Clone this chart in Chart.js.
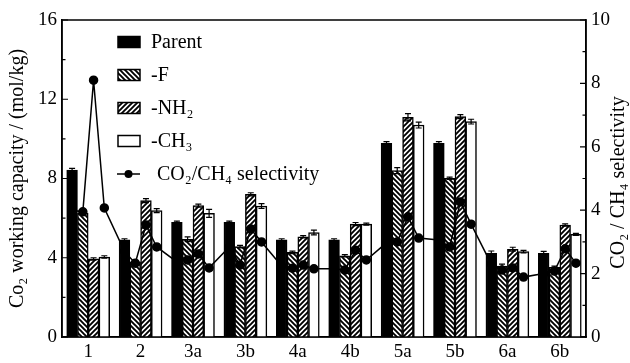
<!DOCTYPE html>
<html><head><meta charset="utf-8">
<script src="https://cdn.jsdelivr.net/npm/chart.js@4/dist/chart.umd.min.js"></script>
<style>html,body{margin:0;padding:0;background:#fff}#wrap{width:630px;height:363px}</style>
</head><body><div id="wrap"><canvas id="c" width="630" height="363"></canvas></div>
<script>
// ---------- data ----------
const categories = ['1','2','3a','3b','4a','4b','5a','5b','6a','6b'];
const seriesLabels = ['Parent','-F','-NH\u2082','-CH\u2083'];
const lineLabel = 'CO\u2082/CH\u2084 selectivity';

// CO2 working capacity (mol/kg)
const capParent = [8.43, 4.90, 5.79, 5.79, 4.90, 4.90, 9.78, 9.78, 4.22, 4.22];
const capF      = [6.26, 3.79, 4.93, 4.56, 4.27, 4.10, 8.40, 8.01, 3.58, 3.52];
const capNH2    = [3.94, 6.88, 6.63, 7.20, 5.06, 5.70, 11.09, 11.12, 4.43, 5.65];
const capCH3    = [4.04, 6.38, 6.24, 6.61, 5.27, 5.70, 10.70, 10.87, 4.31, 5.18];

// error bars (mol/kg)
const errParent = [0.08, 0.06, 0.06, 0.06, 0.06, 0.06, 0.08, 0.08, 0.12, 0.10];
const errF      = [0.08, 0.06, 0.12, 0.06, 0.06, 0.06, 0.15, 0.06, 0.10, 0.06];
const errNH2    = [0.06, 0.10, 0.08, 0.08, 0.06, 0.08, 0.18, 0.10, 0.10, 0.06];
const errCH3    = [0.06, 0.10, 0.20, 0.12, 0.12, 0.05, 0.15, 0.12, 0.06, 0.05];

// CO2/CH4 selectivity
const selParent = [4.00, 2.70, 2.37, 2.84, 2.24, 2.15, 2.97, 3.06, 2.30, 2.00];
const selF      = [3.95, 2.33, 2.43, 2.27, 2.17, 2.11, 3.00, 2.84, 2.11, 2.08];
const selNH2    = [8.10, 3.53, 2.62, 3.41, 2.27, 2.74, 3.79, 4.26, 2.18, 2.78];
const selCH3    = [4.07, 2.84, 2.18, 3.00, 2.15, 2.43, 3.12, 3.56, 1.89, 2.33];

const leftTicksMax = 16, rightTicksMax = 10;

// ---------- styling ----------
const FONT = "'Liberation Serif', 'Times New Roman', serif";
const CAT_PCT = 0.82;   // share of each category taken by its group of four bars

function hatch(slash){
  const s = 5;
  const c = document.createElement('canvas'); c.width = s; c.height = s;
  const g = c.getContext('2d');
  g.fillStyle = '#fff'; g.fillRect(0,0,s,s);
  g.strokeStyle = '#000'; g.lineWidth = 1.9; g.beginPath();
  if (slash){
    g.moveTo(-1, s+1); g.lineTo(s+1, -1);
    g.moveTo(-1, 1); g.lineTo(1, -1);
    g.moveTo(s-1, s+1); g.lineTo(s+1, s-1);
  } else {
    g.moveTo(-1, -1); g.lineTo(s+1, s+1);
    g.moveTo(-1, s-1); g.lineTo(1, s+1);
    g.moveTo(s-1, -1); g.lineTo(s+1, 1);
  }
  g.stroke();
  return g.createPattern(c, 'repeat');
}
const fills = ['#000', hatch(false), hatch(true), '#fff'];
const caps = [capParent, capF, capNH2, capCH3];
const errs = [errParent, errF, errNH2, errCH3];
const sels = [selParent, selF, selNH2, selCH3];

// slot of series k inside category i, in category units
const slot = (i, k) => i + CAT_PCT / 4 * (k - 1.5);

const lineData = [];
categories.forEach((c, i) => sels.forEach((arr, k) => lineData.push({x: slot(i, k), y: arr[i]})));

const barSets = caps.map((arr, k) => ({
  type: 'bar', label: seriesLabels[k],
  data: arr.map((v, i) => ({x: slot(i, k), y: v})), errors: errs[k],
  backgroundColor: fills[k], borderColor: '#000', borderWidth: 1.5,
  borderSkipped: 'start', grouped: false, categoryPercentage: 1, barPercentage: 1,
  xAxisID: 'xs', yAxisID: 'y', order: 1
}));
const lineSet = {
  type: 'line', label: lineLabel, data: lineData,
  borderColor: '#000', borderWidth: 1.5, backgroundColor: '#000',
  pointRadius: 4, pointBackgroundColor: '#000', pointBorderColor: '#000',
  tension: 0, xAxisID: 'xs', yAxisID: 'y1', order: 0
};

// ---------- plugins ----------
const errorBars = {
  id: 'errorBars',
  afterDatasetDraw(chart, args){
    const ds = chart.data.datasets[args.index];
    if (!ds.errors) return;
    const ys = chart.scales.y, ctx = chart.ctx;
    ctx.save(); ctx.strokeStyle = '#000'; ctx.lineWidth = 1.2;
    args.meta.data.forEach((el, j) => {
      const v = ds.data[j].y, e = ds.errors[j];
      const t = ys.getPixelForValue(v + e), b = ys.getPixelForValue(v - e);
      ctx.beginPath();
      ctx.moveTo(el.x, t); ctx.lineTo(el.x, b);
      ctx.moveTo(el.x - 3, t); ctx.lineTo(el.x + 3, t);
      ctx.moveTo(el.x - 3, b); ctx.lineTo(el.x + 3, b);
      ctx.stroke();
    });
    ctx.restore();
  }
};

const frame = {
  id: 'frame',
  afterDraw(chart){
    const ctx = chart.ctx, a = chart.chartArea;
    ctx.save();
    ctx.strokeStyle = '#000'; ctx.lineWidth = 1.5;
    ctx.strokeRect(a.left, a.top, a.right - a.left, a.bottom - a.top);
    ctx.lineWidth = 1.2;
    const y = chart.scales.y, y1 = chart.scales.y1;
    const yt = y.ticks.map(t => t.value);
    const step = yt[1] - yt[0];
    ctx.beginPath();
    yt.forEach(v => {
      const p = y.getPixelForValue(v);
      ctx.moveTo(a.left, p); ctx.lineTo(a.left + 6, p);
      if (v + step / 2 < y.max) { const q = y.getPixelForValue(v + step/2); ctx.moveTo(a.left, q); ctx.lineTo(a.left + 3.5, q); }
    });
    const rt = y1.ticks.map(t => t.value);
    const rstep = rt[1] - rt[0];
    rt.forEach(v => {
      const p = y1.getPixelForValue(v);
      ctx.moveTo(a.right, p); ctx.lineTo(a.right - 6, p);
      if (v + rstep / 2 < y1.max) { const q = y1.getPixelForValue(v + rstep/2); ctx.moveTo(a.right, q); ctx.lineTo(a.right - 3.5, q); }
    });
    ctx.stroke();

    ctx.fillStyle = '#000';
    ctx.font = '20px ' + FONT;
    ctx.textAlign = 'center'; ctx.textBaseline = 'middle';
    ctx.translate(619, (a.top + a.bottom) / 2 + 4);
    ctx.rotate(-Math.PI / 2);
    ctx.fillText('CO\u2082 / CH\u2084 selectivity', 0, 0);
    ctx.restore();
  }
};

const customLegend = {
  id: 'customLegend',
  afterDraw(chart){
    const ctx = chart.ctx, a = chart.chartArea;
    const x0 = a.left + 56, y0 = a.top + 22, dy = 33;
    ctx.save();
    ctx.font = '20px ' + FONT; ctx.textBaseline = 'middle'; ctx.textAlign = 'left';
    ctx.fillStyle = '#000';
    chart.data.datasets.forEach((ds, i) => {
      const yc = y0 + i * dy;
      if (ds.type === 'bar') {
        ctx.fillStyle = ds.backgroundColor;
        ctx.fillRect(x0, yc - 5.5, 22, 11);
        ctx.strokeStyle = '#000'; ctx.lineWidth = 1.5;
        ctx.strokeRect(x0, yc - 5.5, 22, 11);
        ctx.fillStyle = '#000';
        ctx.fillText(ds.label, x0 + 33, yc + 1);
      } else {
        ctx.strokeStyle = '#000'; ctx.lineWidth = 1.5;
        ctx.beginPath(); ctx.moveTo(x0 - 1, yc); ctx.lineTo(x0 + 22, yc); ctx.stroke();
        ctx.beginPath(); ctx.arc(x0 + 10.5, yc, 4, 0, Math.PI * 2); ctx.fill();
        ctx.fillText(ds.label, x0 + 39, yc + 1);
      }
    });
    ctx.restore();
  }
};

new Chart(document.getElementById('c'), {
  type: 'bar',
  data: { labels: categories, datasets: [...barSets, lineSet] },
  options: {
    responsive: false, animation: false, devicePixelRatio: 1,
    layout: { padding: { top: 20, left: 0, right: 0, bottom: 0 } },
    plugins: { legend: { display: false }, tooltip: { enabled: false } },
    scales: {
      x: {
        type: 'category', offset: true,
        grid: { display: false, drawTicks: false },
        border: { display: true, color: '#000', width: 1.5 },
        ticks: { color: '#000', font: { family: FONT, size: 19 }, padding: 4, maxRotation: 0, autoSkip: false },
        afterFit(s){ s.height = 26; }
      },
      xs: { type: 'linear', display: false, min: -0.5, max: 9.5, offset: false, ticks: { stepSize: 1 } },
      y: {
        position: 'left', min: 0, max: leftTicksMax,
        grid: { display: false, drawTicks: false },
        border: { display: true, color: '#000', width: 1.5 },
        ticks: { stepSize: 4, color: '#000', font: { family: FONT, size: 19 }, padding: 5 },
        title: { display: true, text: 'Co\u2082 working capacity / (mol/kg)', color: '#000',
                 font: { family: FONT, size: 20 }, padding: { top: 6, bottom: 0 } },
        afterFit(s){ s.width = 62; }
      },
      y1: {
        position: 'right', min: 0, max: rightTicksMax,
        grid: { display: false, drawTicks: false },
        border: { display: true, color: '#000', width: 1.5 },
        ticks: { stepSize: 2, color: '#000', font: { family: FONT, size: 19 }, padding: 5 },
        afterFit(s){ s.width = 44; }
      }
    }
  },
  plugins: [errorBars, frame, customLegend]
});
</script>
</body></html>
